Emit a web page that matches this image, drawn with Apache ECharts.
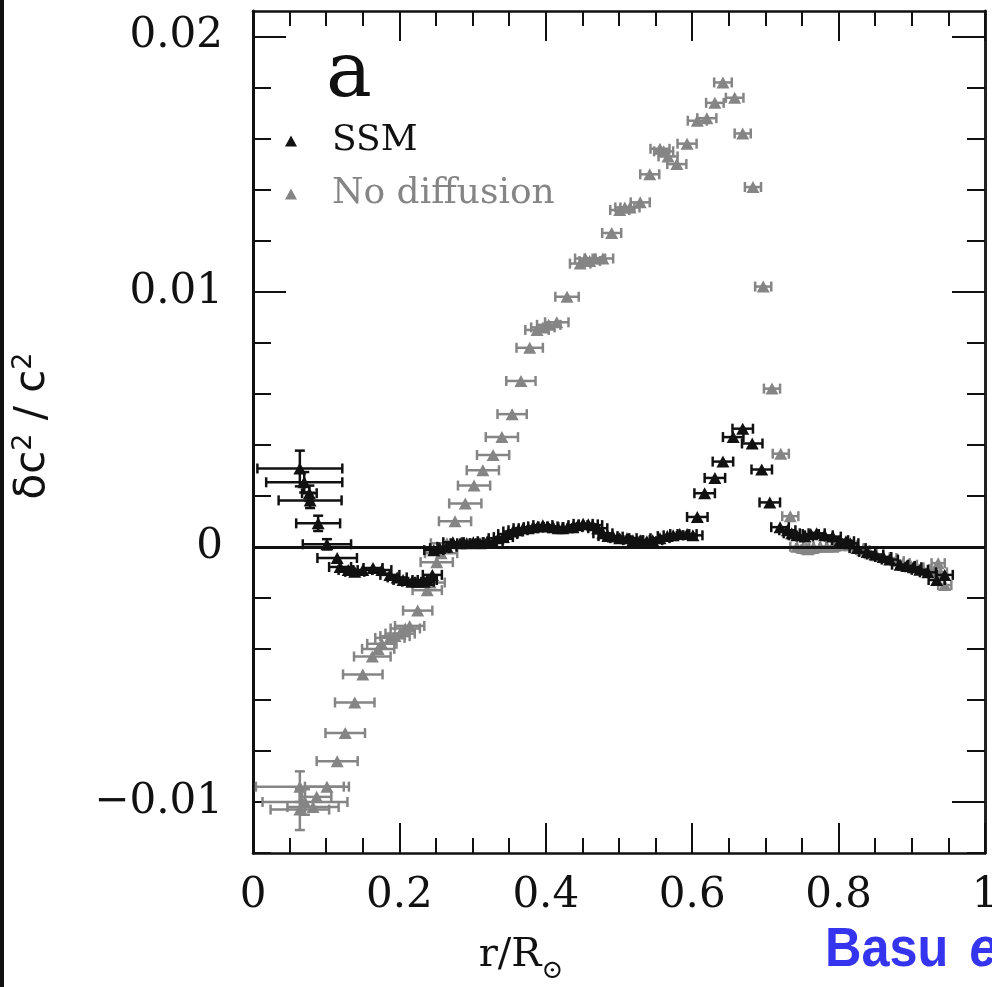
<!DOCTYPE html>
<html>
<head>
<meta charset="utf-8">
<title>delta c^2 / c^2</title>
<script src="https://cdn.jsdelivr.net/npm/echarts@6/dist/echarts.min.js"></script>
<style>
  html, body { margin: 0; padding: 0; background: #fff; }
  #chart { width: 992px; height: 987px; }
</style>
</head>
<body>
<div id="chart"></div>
<script>
// tick values
const xTicks = [0, 0.2, 0.4, 0.6, 0.8, 1]
const yMajorTicks = [-0.01, 0, 0.01, 0.02]
const yMinorTicks = [-0.012, -0.008, -0.006, -0.004, -0.002, 0.002, 0.004, 0.006, 0.008,
  0.012, 0.014, 0.016, 0.018]

// [r/R, dc2/c2, half width in r, half height in dc2/c2]
const ssmPoints = [
  [0.064, 0.00307, 0.058, 0.0007], [0.070, 0.00253, 0.052, 0.0004], [0.077, 0.0021, 0.010, 0.0003],
  [0.078, 0.00182, 0.043, 0.0003], [0.089, 0.00092, 0.030, 0.0003], [0.101, 0.0001, 0.033, 0.0002],
  [0.115, -0.00044, 0.027, 0], [0.119, -0.00079, 0.015, 0], [0.130, -0.00091, 0.013, 0],
  [0.139, -0.00098, 0.013, 0], [0.150, -0.00091, 0.013, 0], [0.164, -0.00083, 0.013, 0],
  [0.176, -0.00091, 0.013, 0], [0.187, -0.0011, 0.013, 0], [0.197, -0.0012, 0.013, 0],
  [0.205, -0.0013, 0.013, 0], [0.217, -0.00137, 0.013, 0], [0.225, -0.00137, 0.013, 0],
  [0.234, -0.00137, 0.013, 0], [0.238, -0.0013, 0.013, 0], [0.245, -0.0011, 0.013, 0],
  [0.247, -0.00013, 0.013, 0], [0.255, -0.00005, 0.013, 0], [0.265, 0.0, 0.013, 0],
  [0.273, 0.00018, 0.013, 0], [0.283, 0.00014, 0.013, 0], [0.292, 0.00014, 0.013, 0],
  [0.301, 0.00018, 0.013, 0], [0.310, 0.00014, 0.013, 0], [0.320, 0.00022, 0.013, 0],
  [0.328, 0.00018, 0.013, 0], [0.335, 0.00034, 0.013, 0], [0.342, 0.00038, 0.013, 0],
  [0.348, 0.0005, 0.013, 0], [0.355, 0.0006, 0.013, 0], [0.362, 0.00065, 0.013, 0],
  [0.369, 0.00073, 0.013, 0], [0.376, 0.00073, 0.013, 0], [0.383, 0.00077, 0.013, 0],
  [0.389, 0.0008, 0.013, 0], [0.396, 0.00085, 0.013, 0], [0.403, 0.0008, 0.013, 0],
  [0.410, 0.00077, 0.013, 0], [0.417, 0.00073, 0.013, 0], [0.423, 0.00073, 0.013, 0],
  [0.430, 0.00077, 0.013, 0], [0.437, 0.00077, 0.013, 0], [0.444, 0.00085, 0.013, 0],
  [0.451, 0.0009, 0.013, 0], [0.458, 0.00088, 0.013, 0], [0.464, 0.00085, 0.013, 0],
  [0.471, 0.00073, 0.013, 0], [0.478, 0.00053, 0.013, 0], [0.485, 0.00042, 0.013, 0],
  [0.492, 0.0004, 0.013, 0], [0.501, 0.00034, 0.013, 0], [0.511, 0.00034, 0.013, 0],
  [0.519, 0.00026, 0.013, 0], [0.529, 0.00026, 0.013, 0], [0.538, 0.00022, 0.013, 0],
  [0.546, 0.00026, 0.013, 0], [0.556, 0.00034, 0.013, 0], [0.566, 0.00042, 0.013, 0],
  [0.574, 0.00045, 0.013, 0], [0.583, 0.0005, 0.013, 0], [0.593, 0.0005, 0.013, 0],
  [0.601, 0.00045, 0.013, 0], [0.607, 0.00117, 0.014, 0], [0.617, 0.0021, 0.014, 0],
  [0.631, 0.0027, 0.014, 0], [0.642, 0.00334, 0.014, 0], [0.656, 0.0043, 0.014, 0],
  [0.669, 0.00463, 0.014, 0], [0.682, 0.00405, 0.014, 0], [0.695, 0.00303, 0.014, 0],
  [0.706, 0.00174, 0.014, 0], [0.720, 0.00077, 0.012, 0], [0.730, 0.00065, 0.011, 0],
  [0.736, 0.00053, 0.011, 0], [0.743, 0.00045, 0.011, 0], [0.754, 0.0004, 0.011, 0],
  [0.762, 0.0005, 0.011, 0], [0.770, 0.00053, 0.011, 0], [0.781, 0.00045, 0.011, 0],
  [0.792, 0.0004, 0.011, 0], [0.802, 0.00026, 0.011, 0], [0.810, 0.00022, 0.011, 0],
  [0.816, 0.00014, 0.011, 0], [0.826, -0.00005, 0.011, 0], [0.839, -0.0002, 0.011, 0],
  [0.850, -0.0003, 0.011, 0], [0.861, -0.0004, 0.011, 0], [0.870, -0.0005, 0.011, 0],
  [0.884, -0.0007, 0.011, 0], [0.893, -0.00075, 0.011, 0], [0.902, -0.0008, 0.011, 0],
  [0.911, -0.0009, 0.011, 0], [0.922, -0.001, 0.011, 0], [0.934, -0.0013, 0.011, 0],
  [0.945, -0.0011, 0.011, 0]
]

const noDiffPoints = [
  [0.064, -0.0094, 0.060, 0.0006], [0.071, -0.0100, 0.058, 0.0005], [0.064, -0.0103, 0.040, 0.0008],
  [0.082, -0.0102, 0.035, 0], [0.087, -0.0098, 0.020, 0], [0.101, -0.0094, 0.030, 0],
  [0.115, -0.0084, 0.028, 0], [0.126, -0.0073, 0.027, 0], [0.139, -0.0061, 0.027, 0],
  [0.150, -0.0050, 0.027, 0], [0.163, -0.0043, 0.025, 0], [0.171, -0.0040, 0.022, 0],
  [0.176, -0.0038, 0.020, 0], [0.187, -0.00357, 0.020, 0], [0.194, -0.0035, 0.020, 0],
  [0.201, -0.0034, 0.020, 0], [0.208, -0.0032, 0.020, 0], [0.214, -0.0031, 0.020, 0],
  [0.225, -0.0025, 0.020, 0], [0.238, -0.0017, 0.020, 0], [0.242, -0.0014, 0.020, 0],
  [0.251, -0.0006, 0.022, 0], [0.257, -0.00025, 0.022, 0], [0.265, 0.00014, 0.022, 0],
  [0.276, 0.001, 0.022, 0], [0.290, 0.0017, 0.022, 0], [0.302, 0.0024, 0.022, 0],
  [0.314, 0.003, 0.022, 0], [0.328, 0.0036, 0.022, 0], [0.340, 0.0043, 0.022, 0],
  [0.354, 0.0052, 0.020, 0], [0.366, 0.0065, 0.020, 0], [0.378, 0.0078, 0.018, 0],
  [0.388, 0.0085, 0.016, 0], [0.396, 0.0086, 0.016, 0], [0.404, 0.0087, 0.016, 0],
  [0.415, 0.0088, 0.016, 0], [0.429, 0.0098, 0.016, 0], [0.447, 0.0111, 0.014, 0],
  [0.454, 0.0113, 0.014, 0], [0.460, 0.0112, 0.014, 0], [0.467, 0.0113, 0.014, 0],
  [0.478, 0.0113, 0.014, 0], [0.490, 0.0123, 0.013, 0], [0.501, 0.0132, 0.013, 0],
  [0.508, 0.0133, 0.013, 0], [0.515, 0.0133, 0.013, 0], [0.529, 0.0135, 0.013, 0],
  [0.542, 0.0146, 0.013, 0], [0.556, 0.0156, 0.013, 0], [0.561, 0.0155, 0.013, 0],
  [0.567, 0.0153, 0.013, 0], [0.579, 0.0150, 0.013, 0], [0.593, 0.0158, 0.013, 0],
  [0.607, 0.0167, 0.013, 0], [0.620, 0.0168, 0.013, 0], [0.631, 0.0174, 0.012, 0],
  [0.642, 0.0182, 0.012, 0], [0.658, 0.0176, 0.012, 0], [0.669, 0.0162, 0.011, 0],
  [0.683, 0.0141, 0.011, 0], [0.697, 0.0102, 0.011, 0], [0.709, 0.0062, 0.011, 0],
  [0.721, 0.00365, 0.011, 0], [0.734, 0.0012, 0.011, 0], [0.743, 0.0, 0.009, 0],
  [0.751, -0.00005, 0.009, 0], [0.758, -0.0001, 0.009, 0], [0.765, -0.00005, 0.009, 0],
  [0.775, 0.0, 0.009, 0], [0.784, 0.0, 0.009, 0], [0.792, 0.0, 0.009, 0],
  [0.802, 0.00006, 0.009, 0], [0.809, 0.0001, 0.009, 0], [0.816, 0.00006, 0.009, 0],
  [0.825, -0.00005, 0.009, 0], [0.833, -0.00013, 0.009, 0], [0.843, -0.00025, 0.009, 0],
  [0.852, -0.00033, 0.009, 0], [0.861, -0.0004, 0.009, 0], [0.870, -0.00044, 0.009, 0],
  [0.880, -0.00056, 0.009, 0], [0.888, -0.00064, 0.009, 0], [0.898, -0.0007, 0.009, 0],
  [0.907, -0.0008, 0.009, 0], [0.915, -0.00087, 0.009, 0], [0.925, -0.0009, 0.009, 0],
  [0.936, -0.00064, 0.009, 0], [0.939, -0.001, 0.009, 0], [0.945, -0.0015, 0.009, 0]
]

const SSM_COLOR = '#111111'
const NODIFF_COLOR = '#858585'
const SERIF = '"DejaVu Serif", "Liberation Serif", serif'
const SANS = '"DejaVu Sans", sans-serif'

// error bars: horizontal (r) and vertical (dc2/c2) with small caps
function errorBars(color) {
  return function (params, api) {
    const r = api.value(0)
    const v = api.value(1)
    const dr = api.value(2)
    const dv = api.value(3)
    const style = { stroke: color, lineWidth: 2.5, fill: null }
    const cap = 5
    const children = []
    const c = api.coord([r, v])
    if (dr > 0) {
      const a = api.coord([r - dr, v])
      const b = api.coord([r + dr, v])
      children.push({ type: 'line', shape: { x1: a[0], y1: c[1], x2: b[0], y2: c[1] }, style: style })
      children.push({ type: 'line', shape: { x1: a[0], y1: c[1] - cap, x2: a[0], y2: c[1] + cap }, style: style })
      children.push({ type: 'line', shape: { x1: b[0], y1: c[1] - cap, x2: b[0], y2: c[1] + cap }, style: style })
    }
    if (dv > 0) {
      const t = api.coord([r, v + dv])
      const d = api.coord([r, v - dv])
      children.push({ type: 'line', shape: { x1: c[0], y1: t[1], x2: c[0], y2: d[1] }, style: style })
      children.push({ type: 'line', shape: { x1: c[0] - cap, y1: t[1], x2: c[0] + cap, y2: t[1] }, style: style })
      children.push({ type: 'line', shape: { x1: c[0] - cap, y1: d[1], x2: c[0] + cap, y2: d[1] }, style: style })
    }
    return { type: 'group', children: children }
  }
}

const chart = echarts.init(document.getElementById('chart'), null, { renderer: 'canvas' })

const axisLineStyle = { color: '#111', width: 2.5 }
const tickStyle = { color: '#111', width: 2 }
const minusFmt = function (v) { return String(v).replace('-', '\u2212') }

const yCommon = { type: 'value', min: -0.012, max: 0.021, splitLine: { show: false }, gridIndex: 0 }
const xCommon = { type: 'value', min: 0, max: 1, interval: 0.2, splitLine: { show: false }, gridIndex: 0 }

chart.setOption({
  animation: false,
  backgroundColor: '#ffffff',
  grid: { left: 253, top: 11, width: 732, height: 842, containLabel: false, outerBoundsMode: 'none' },
  title: {
    text: 'a',
    left: 321,
    top: 32,
    textStyle: { fontFamily: SERIF, fontSize: 77, fontWeight: 'normal', color: '#111' }
  },
  legend: {
    orient: 'vertical',
    left: 280,
    top: 118,
    icon: 'triangle',
    itemWidth: 12,
    itemHeight: 11,
    itemGap: 17,
    textStyle: { fontFamily: SERIF, fontSize: 36, lineHeight: 36, padding: [0, 0, 0, 30] },
    data: [
      { name: 'SSM', textStyle: { color: '#111' } },
      { name: 'No diffusion', textStyle: { color: NODIFF_COLOR } }
    ]
  },
  xAxis: [
    Object.assign({}, xCommon, {
      position: 'bottom',
      axisLine: { onZero: false, lineStyle: axisLineStyle },
      axisTick: { inside: true, length: 30, lineStyle: tickStyle },
      minorTick: { show: true, splitNumber: 4, length: 15, lineStyle: tickStyle },
      axisLabel: {
        margin: 22, fontFamily: SERIF, fontSize: 42, color: '#111',
        customValues: xTicks
      },
      name: '{t|r/R}{s|\u2299}',
      nameLocation: 'middle',
      nameGap: 82,
      nameTextStyle: {
        padding: [0, 196, 0, 0],
        rich: {
          t: { fontFamily: SERIF, fontSize: 40, color: '#111', lineHeight: 42 },
          s: { fontFamily: SERIF, fontSize: 26, color: '#111', lineHeight: 26, padding: [30, 0, 0, 0] }
        }
      }
    }),
    Object.assign({}, xCommon, {
      position: 'top',
      axisLine: { onZero: false, lineStyle: axisLineStyle },
      axisTick: { inside: true, length: 30, lineStyle: tickStyle },
      minorTick: { show: true, splitNumber: 4, length: 15, lineStyle: tickStyle },
      axisLabel: { show: false }
    })
  ],
  yAxis: [
    Object.assign({}, yCommon, {
      position: 'left',
      axisLine: { show: true, onZero: false, lineStyle: { color: '#111', width: 3 } },
      axisTick: { show: true, inside: true, length: 33, lineStyle: tickStyle, customValues: yMajorTicks },
      axisLabel: {
        margin: 30, fontFamily: SERIF, fontSize: 42, color: '#111',
        customValues: yMajorTicks, formatter: minusFmt
      },
      name: '{t|\u03b4c}{s|2}{t| / c}{s|2}',
      nameLocation: 'middle',
      nameRotate: 90,
      nameGap: 198,
      nameTextStyle: {
        padding: [0, 0, 0, 12],
        rich: {
          t: { fontFamily: SANS, fontSize: 42, color: '#111', lineHeight: 44 },
          s: { fontFamily: SANS, fontSize: 27, color: '#111', lineHeight: 27, padding: [0, 0, 18, 0] }
        }
      }
    }),
    Object.assign({}, yCommon, {
      position: 'left',
      axisLine: { show: false, onZero: false },
      axisTick: { show: true, inside: true, length: 18, lineStyle: tickStyle, customValues: yMinorTicks },
      axisLabel: { show: false, customValues: yMinorTicks }
    }),
    Object.assign({}, yCommon, {
      position: 'right',
      axisLine: { show: true, onZero: false, lineStyle: { color: '#222', width: 3 } },
      axisTick: { show: true, inside: true, length: 33, lineStyle: tickStyle, customValues: yMajorTicks },
      axisLabel: { show: false, customValues: yMajorTicks }
    }),
    Object.assign({}, yCommon, {
      position: 'right',
      axisLine: { show: false, onZero: false },
      axisTick: { show: true, inside: true, length: 18, lineStyle: tickStyle, customValues: yMinorTicks },
      axisLabel: { show: false, customValues: yMinorTicks }
    })
  ],
  graphic: [
    { type: 'rect', left: 0, top: 0, shape: { width: 4, height: 987 }, style: { fill: '#111' }, z: 100 },
    {
      type: 'text', x: 825, y: 923, scaleX: 0.9, z: 100,
      style: {
        text: '{a|Basu }{b|et al.}',
        rich: {
          a: { fontFamily: '"Liberation Sans Narrow", "Liberation Sans", sans-serif', fontWeight: 'bold', fontSize: 56, fill: '#3535f0' },
          b: { fontFamily: '"Liberation Sans Narrow", "Liberation Sans", sans-serif', fontWeight: 'bold', fontStyle: 'italic', fontSize: 56, fill: '#3535f0', padding: [0, 0, 0, 8] }
        }
      }
    }
  ],
  series: [
    {
      type: 'custom', name: 'noDiffErr', xAxisIndex: 0, yAxisIndex: 0,
      renderItem: errorBars(NODIFF_COLOR), data: noDiffPoints, z: 2, silent: true,
      markLine: {
        silent: true, symbol: 'none', label: { show: false },
        lineStyle: { color: '#111', width: 3, type: 'solid' },
        data: [{ yAxis: 0 }]
      }
    },
    {
      type: 'scatter', name: 'No diffusion', xAxisIndex: 0, yAxisIndex: 0,
      data: noDiffPoints.map(p => [p[0], p[1]]),
      symbol: 'triangle', symbolSize: [13, 12], itemStyle: { color: NODIFF_COLOR, opacity: 1 }, z: 3
    },
    {
      type: 'custom', name: 'ssmErr', xAxisIndex: 0, yAxisIndex: 0,
      renderItem: errorBars(SSM_COLOR), data: ssmPoints, z: 4, silent: true
    },
    {
      type: 'scatter', name: 'SSM', xAxisIndex: 0, yAxisIndex: 0,
      data: ssmPoints.map(p => [p[0], p[1]]),
      symbol: 'triangle', symbolSize: [13, 12], itemStyle: { color: SSM_COLOR, opacity: 1 }, z: 5
    }
  ]
})
</script>
</body>
</html>
